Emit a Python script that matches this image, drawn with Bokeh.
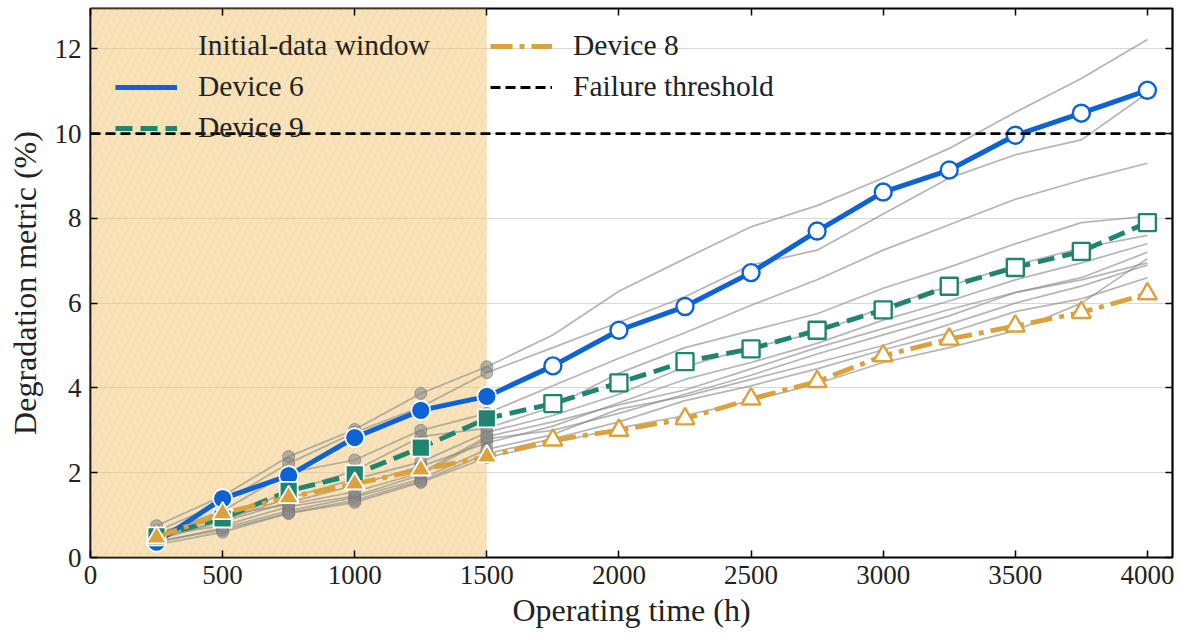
from bokeh.plotting import figure
from bokeh.models import Range1d, LinearAxis, Legend, LegendItem, FixedTicker, CustomJSTickFormatter
from bokeh.embed import file_html
from bokeh.resources import INLINE

# ---------------- data ----------------
times = [250, 500, 750, 1000, 1250, 1500, 1750, 2000, 2250, 2500, 2750, 3000, 3250, 3500, 3750, 4000]
window_end = 1500
threshold = 10

device6 = [0.36, 1.39, 1.93, 2.83, 3.47, 3.80, 4.52, 5.36, 5.92, 6.72, 7.70, 8.62, 9.14, 9.96, 10.48, 11.02]
device9 = [0.50, 0.92, 1.57, 1.96, 2.59, 3.28, 3.63, 4.12, 4.62, 4.92, 5.36, 5.84, 6.40, 6.84, 7.22, 7.90]
device8 = [0.47, 1.04, 1.42, 1.74, 2.07, 2.38, 2.77, 3.00, 3.27, 3.74, 4.15, 4.76, 5.15, 5.46, 5.78, 6.22]

other_devices = [
    [0.75, 1.45, 2.38, 3.02, 3.87, 4.50, 5.25, 6.28, 7.05, 7.80, 8.30, 8.95, 9.65, 10.50, 11.30, 12.22],
    [0.62, 1.30, 2.22, 2.95, 3.55, 4.36, 4.95, 5.55, 6.15, 6.90, 7.25, 8.10, 8.95, 9.50, 9.85, 10.95],
    [0.55, 1.10, 2.00, 2.30, 3.00, 3.40, 4.05, 4.70, 5.30, 5.95, 6.55, 7.25, 7.85, 8.45, 8.90, 9.30],
    [0.50, 0.95, 1.55, 2.05, 2.85, 3.05, 3.55, 4.35, 4.95, 5.35, 5.75, 6.35, 6.85, 7.40, 7.90, 8.05],
    [0.45, 0.88, 1.40, 1.85, 2.25, 2.95, 3.35, 3.85, 4.50, 4.95, 5.30, 5.90, 6.40, 6.90, 7.30, 7.60],
    [0.42, 0.85, 1.30, 1.70, 2.15, 2.70, 3.10, 3.65, 4.20, 4.60, 5.05, 5.60, 6.05, 6.55, 6.95, 7.40],
    [0.52, 0.75, 1.20, 1.45, 1.95, 2.80, 3.00, 3.40, 3.85, 4.30, 4.80, 5.25, 5.70, 6.25, 6.60, 7.20],
    [0.35, 0.70, 1.10, 1.42, 1.85, 2.55, 2.90, 3.50, 3.80, 4.20, 4.60, 5.00, 5.50, 6.00, 6.40, 6.90],
    [0.38, 0.65, 1.05, 1.35, 1.80, 2.45, 2.80, 3.20, 3.70, 4.05, 4.45, 4.90, 5.30, 5.80, 6.10, 6.60],
    [0.30, 0.60, 1.04, 1.30, 1.77, 2.36, 2.70, 3.05, 3.35, 3.70, 4.10, 4.60, 4.95, 5.35, 6.00, 7.05],
    [0.58, 1.00, 1.25, 1.55, 2.00, 2.85, 3.20, 3.60, 3.95, 4.45, 4.95, 5.40, 5.85, 6.25, 6.55, 6.95],
]

x_ticks = [0, 500, 1000, 1500, 2000, 2500, 3000, 3500, 4000]
y_ticks = [0, 2, 4, 6, 8, 10, 12]

# ---------------- style ----------------
FONT = "Liberation Serif"
BLUE = "#0d63d3"
GREEN = "#1f8470"
ORANGE = "#dba23c"
GRAY = "#888888"

p = figure(width=1180, height=639, x_range=Range1d(0, 4095), y_range=Range1d(0, 12.95),
           output_backend="svg", toolbar_location=None,
           min_border_left=90, min_border_right=8, min_border_top=8, min_border_bottom=82)
p.background_fill_color = "white"
p.border_fill_color = "white"
p.outline_line_color = "black"
p.outline_line_width = 2.2

# shaded initial-data window
p.quad(left=[0], right=[window_end], bottom=[0], top=[13.5],
       fill_color="#f0c878", fill_alpha=0.52, line_color=None,
       hatch_pattern="/", hatch_color="#c79a50", hatch_alpha=0.12,
       hatch_scale=14, hatch_weight=1)
# legend proxy for the window (drawn on the shade, so invisible like the reference)
shade_key = p.quad(left=[], right=[], bottom=[], top=[], fill_color="#f0c878", fill_alpha=0.0,
                   line_color=None)

# other devices (gray)
for vals in other_devices:
    p.line(times, vals, line_color=GRAY, line_alpha=0.62, line_width=1.7)
    wx = [t for t in times if t <= window_end]
    wy = [v for t, v in zip(times, vals) if t <= window_end]
    p.scatter(wx, wy, marker="circle", size=12, fill_color=GRAY, fill_alpha=0.6,
              line_color="#707070", line_alpha=0.6, line_width=1)

def highlight(vals, color, dash, marker, fsize, osize, lw):
    r = p.line(times, vals, line_color=color, line_width=lw, line_dash=dash)
    wx = [t for t in times if t <= window_end]
    wy = [v for t, v in zip(times, vals) if t <= window_end]
    ax = [t for t in times if t > window_end]
    ay = [v for t, v in zip(times, vals) if t > window_end]
    p.scatter(wx, wy, marker=marker, size=fsize, fill_color=color, line_color="white", line_width=1.8)
    p.scatter(ax, ay, marker=marker, size=osize, fill_color="white", line_color=color, line_width=2.4)
    return r

r6 = highlight(device6, BLUE, "solid", "circle", 19, 17, 5)
r9 = highlight(device9, GREEN, "17 8", "square", 18, 17, 4.8)
r8 = highlight(device8, ORANGE, "22 7 5 7", "triangle", 20, 19, 4.8)

thr = p.ray(x=[0], y=[threshold], length=0, angle=0, line_color="black", line_width=2.8, line_dash="10 5")

# axes
p.xaxis.ticker = FixedTicker(ticks=x_ticks)
p.yaxis.ticker = FixedTicker(ticks=y_ticks)
for ax in [p.xaxis[0], p.yaxis[0]]:
    ax.major_tick_in = 7
    ax.major_tick_out = 0
    ax.minor_tick_line_color = None
    ax.axis_line_color = None
    ax.major_tick_line_width = 1.5
    ax.major_label_text_font = FONT
    ax.major_label_text_font_size = "27px"
    ax.major_label_text_color = "#222222"
    ax.axis_label_text_font = FONT
    ax.axis_label_text_font_size = "32px"
    ax.axis_label_text_font_style = "normal"
    ax.axis_label_text_color = "#222222"
p.xaxis.axis_label = "Operating time (h)"
p.yaxis.axis_label = "Degradation metric (%)"
p.xaxis.major_label_standoff = 8
p.xaxis.axis_label_standoff = 5
p.yaxis.major_label_standoff = 9
p.yaxis.axis_label_standoff = 9

empty = CustomJSTickFormatter(code="return ''")
top_ax = LinearAxis(ticker=FixedTicker(ticks=x_ticks), formatter=empty, major_tick_in=7, major_tick_out=0,
                    minor_tick_line_color=None, axis_line_color=None, major_tick_line_width=1.5,
                    major_label_text_font_size="0px", major_label_standoff=0)
right_ax = LinearAxis(ticker=FixedTicker(ticks=y_ticks), formatter=empty, major_tick_in=7, major_tick_out=0,
                      minor_tick_line_color=None, axis_line_color=None, major_tick_line_width=1.5,
                      major_label_text_font_size="0px", major_label_standoff=0)
p.add_layout(top_ax, "above")
p.add_layout(right_ax, "right")

p.xgrid.grid_line_color = None
p.ygrid.ticker = FixedTicker(ticks=y_ticks)
p.ygrid.grid_line_color = "#d8d8d8"
p.ygrid.grid_line_width = 1.2

# legends
common = dict(label_text_font=FONT, label_text_font_size="29.5px", label_text_color="#222222",
              glyph_width=62, glyph_height=30, label_height=30, label_standoff=21, spacing=8,
              padding=0, margin=0, border_line_color=None, background_fill_alpha=0)
leg1 = Legend(items=[LegendItem(label="Initial-data window", renderers=[shade_key]),
                     LegendItem(label="Device 6", renderers=[r6]),
                     LegendItem(label="Device 9", renderers=[r9])],
              location=(25, 413), **common)
leg2 = Legend(items=[LegendItem(label="Device 8", renderers=[r8]),
                     LegendItem(label="Failure threshold", renderers=[thr])],
              location=(400, 454), **common)
p.add_layout(leg1, "center")
p.add_layout(leg2, "center")

open("out.html", "w").write(file_html(p, INLINE))
